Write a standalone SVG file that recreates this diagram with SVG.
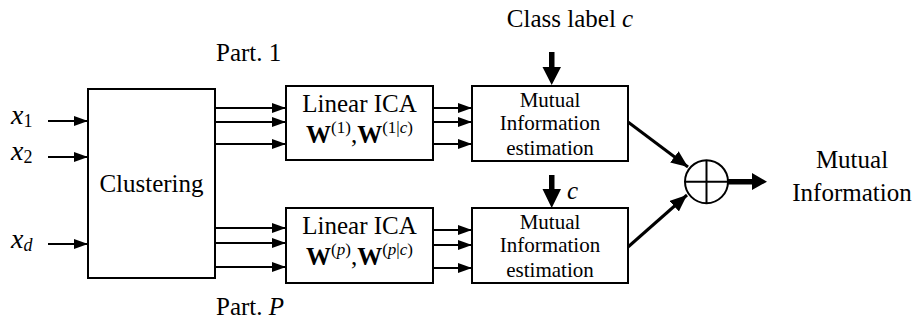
<svg xmlns="http://www.w3.org/2000/svg" width="920" height="323" viewBox="0 0 920 323" font-family="'Liberation Serif','Times New Roman',serif">
<style>
text{font-family:"Liberation Serif","Times New Roman",serif;fill:#000}
.big{font-size:25px}
.xl{font-size:28px;font-style:italic}
.mi{font-size:21px}
.box{fill:#fff;stroke:#000;stroke-width:2}
.ln{stroke:#000;stroke-width:2;fill:none}
.dg{stroke:#000;stroke-width:3;fill:none}
.th{fill:#000}
</style>
<defs>
<marker id="ah" markerUnits="userSpaceOnUse" markerWidth="14" markerHeight="10" refX="14" refY="5" orient="auto">
<path d="M0,0 L14,5 L0,10 z" fill="#000"/>
</marker>
<marker id="ah2" markerUnits="userSpaceOnUse" markerWidth="17" markerHeight="14" refX="17" refY="7" orient="auto">
<path d="M0,0 L17,7 L0,14 z" fill="#000"/>
</marker>
</defs>
<g id="connectors">
<line class="ln" x1="48" y1="121" x2="88" y2="121" marker-end="url(#ah)"/>
<line class="ln" x1="48" y1="157" x2="88" y2="157" marker-end="url(#ah)"/>
<line class="ln" x1="48" y1="244" x2="88" y2="244" marker-end="url(#ah)"/>
<line class="ln" x1="215" y1="108" x2="286" y2="108" marker-end="url(#ah)"/>
<line class="ln" x1="215" y1="122" x2="286" y2="122" marker-end="url(#ah)"/>
<line class="ln" x1="215" y1="144" x2="286" y2="144" marker-end="url(#ah)"/>
<line class="ln" x1="215" y1="228" x2="286" y2="228" marker-end="url(#ah)"/>
<line class="ln" x1="215" y1="243" x2="286" y2="243" marker-end="url(#ah)"/>
<line class="ln" x1="215" y1="267" x2="286" y2="267" marker-end="url(#ah)"/>
<line class="ln" x1="433" y1="108" x2="472" y2="108" marker-end="url(#ah)"/>
<line class="ln" x1="433" y1="122" x2="472" y2="122" marker-end="url(#ah)"/>
<line class="ln" x1="433" y1="144" x2="472" y2="144" marker-end="url(#ah)"/>
<line class="ln" x1="433" y1="230" x2="472" y2="230" marker-end="url(#ah)"/>
<line class="ln" x1="433" y1="245" x2="472" y2="245" marker-end="url(#ah)"/>
<line class="ln" x1="433" y1="268" x2="472" y2="268" marker-end="url(#ah)"/>
<line class="dg" x1="628" y1="122" x2="688" y2="167" marker-end="url(#ah2)"/>
<line class="dg" x1="628" y1="247" x2="687" y2="195" marker-end="url(#ah2)"/>
<polygon class="th" points="549,52 554.5,52 554.5,67 561,67 551.7,85 542.5,67 549,67"/>
<polygon class="th" points="549,175 554.5,175 554.5,189 561,189 551.7,208 542.5,189 549,189"/>
<polygon class="th" points="728,179 752,179 752,173 767,181.7 752,190 752,184.5 728,184.5"/>
</g>
<g id="inputs">
<text class="xl" x="11" y="124">x<tspan font-size="18" font-style="normal" dy="3">1</tspan></text>
<text class="xl" x="11" y="160">x<tspan font-size="18" font-style="normal" dy="3">2</tspan></text>
<text class="xl" x="11" y="248">x<tspan font-size="18" dy="3">d</tspan></text>
</g>
<g id="clustering">
<rect class="box" x="88" y="89" width="127" height="189"/>
<text class="big" x="151.5" y="192" text-anchor="middle">Clustering</text>
</g>
<g id="ica1">
<rect class="box" x="286" y="86" width="147" height="74"/>
<text class="big" x="359.5" y="112" text-anchor="middle">Linear ICA</text>
<text class="big" x="359.5" y="143" text-anchor="middle"><tspan font-weight="bold">W</tspan><tspan font-size="17" dy="-10">(1)</tspan><tspan dy="10">,</tspan><tspan font-weight="bold">W</tspan><tspan font-size="17" dy="-10">(1|<tspan font-style="italic">c</tspan>)</tspan></text>
<text class="big" x="216" y="61">Part. 1</text>
</g>
<g id="icaP">
<rect class="box" x="286" y="208" width="147" height="75"/>
<text class="big" x="359.5" y="234" text-anchor="middle">Linear ICA</text>
<text class="big" x="359.5" y="265" text-anchor="middle"><tspan font-weight="bold">W</tspan><tspan font-size="17" dy="-10">(<tspan font-style="italic">p</tspan>)</tspan><tspan dy="10">,</tspan><tspan font-weight="bold">W</tspan><tspan font-size="17" dy="-10">(<tspan font-style="italic">p</tspan>|<tspan font-style="italic">c</tspan>)</tspan></text>
<text class="big" x="216" y="315">Part. <tspan font-style="italic">P</tspan></text>
</g>
<g id="mi1">
<rect class="box" x="472" y="86" width="156" height="75"/>
<text class="mi" x="550" y="107" text-anchor="middle">Mutual</text>
<text class="mi" x="550" y="130" text-anchor="middle">Information</text>
<text class="mi" x="550" y="155" text-anchor="middle">estimation</text>
<text class="big" x="570" y="27" text-anchor="middle">Class label <tspan font-style="italic">c</tspan></text>
</g>
<g id="miP">
<rect class="box" x="472" y="208" width="156" height="75"/>
<text class="mi" x="550" y="229" text-anchor="middle">Mutual</text>
<text class="mi" x="550" y="252" text-anchor="middle">Information</text>
<text class="mi" x="550" y="277" text-anchor="middle">estimation</text>
<text class="big" x="567" y="199" font-style="italic">c</text>
</g>
<g id="sum">
<circle cx="706.5" cy="181.7" r="21.5" fill="#fff" stroke="#000" stroke-width="2"/>
<line class="ln" x1="685" y1="181.7" x2="728" y2="181.7"/>
<line class="ln" x1="706.5" y1="160.2" x2="706.5" y2="203.2"/>
</g>
<g id="output">
<text class="big" x="852" y="168" text-anchor="middle">Mutual</text>
<text class="big" x="852" y="201" text-anchor="middle">Information</text>
</g>
</svg>
